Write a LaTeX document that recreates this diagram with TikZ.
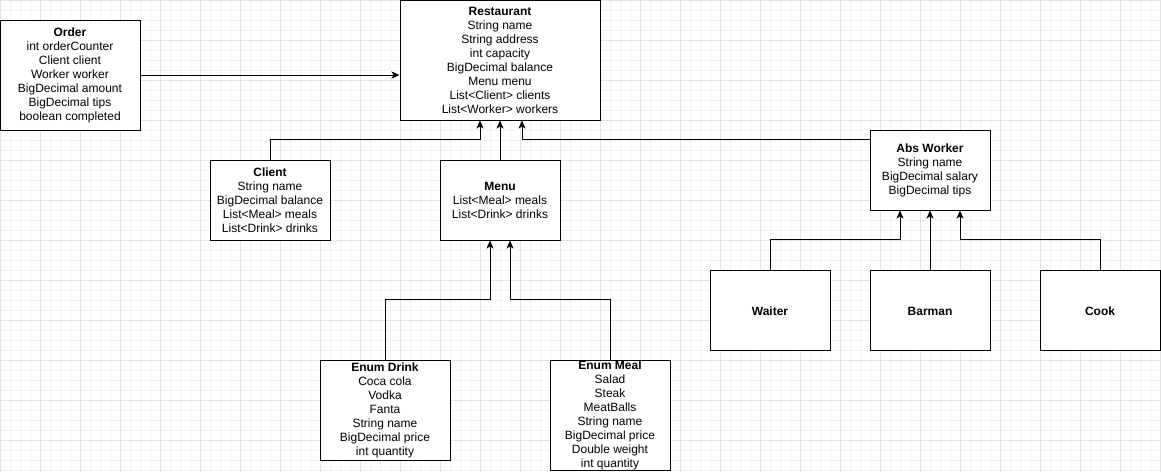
\documentclass[tikz,border=0pt]{standalone}
\usepackage{fontspec}
\setmainfont{Liberation Sans}
\usepackage{xcolor}
\usetikzlibrary{arrows.meta,positioning}
\definecolor{gridminor}{HTML}{F2F2F2}
\definecolor{gridmajor}{HTML}{E3E3E3}

\begin{document}
\begin{tikzpicture}[x=1pt, y=-1pt, font=\fontsize{12}{14}\selectfont]
\tikzstyle{cls}=[draw, line width=1pt, fill=white, align=center, inner sep=0pt, minimum width=120pt, minimum height=80pt, execute at begin node={\rule{0pt}{12pt}}]
\tikzstyle{link}=[line width=1pt, -{Stealth[length=8pt,width=7pt,inset=2pt]}]

\useasboundingbox (0,0) rectangle (1161,472);
\fill[white] (0,0) rectangle (1161,472);
\draw[gridminor, line width=0.6pt, step=10pt] (0,0) grid (1161,472);
\draw[gridmajor, line width=0.6pt, step=40pt] (0,0) grid (1161,472);

\node[cls, minimum width=140pt, minimum height=110pt] (order) at (70,75) {\textbf{Order}\\int orderCounter\\Client client\\Worker worker\\BigDecimal amount\\BigDecimal tips\\boolean completed};
\node[cls, minimum width=200pt, minimum height=120pt] (restaurant) at (500,60) {\textbf{Restaurant}\\String name\\String address\\int capacity\\BigDecimal balance\\Menu menu\\List<Client> clients\\List<Worker> workers};
\node[cls] (client) at (270,200) {\textbf{Client}\\String name\\BigDecimal balance\\List<Meal> meals\\List<Drink> drinks};
\node[cls] (menu) at (500,200) {\textbf{Menu}\\List<Meal> meals\\List<Drink> drinks};
\node[cls] (absworker) at (930,170) {\textbf{Abs Worker}\\String name\\BigDecimal salary\\BigDecimal tips};
\node[cls] (waiter) at (770,310) {\textbf{Waiter}};
\node[cls] (barman) at (930,310) {\textbf{Barman}};
\node[cls] (cook) at (1100,310) {\textbf{Cook}};
\node[cls, minimum width=130pt, minimum height=100pt] (drink) at (385,410) {\textbf{Enum Drink}\\Coca cola\\Vodka\\Fanta\\String name\\BigDecimal price\\int quantity};
\node[cls, minimum height=110pt] (meal) at (610,415) {\textbf{Enum Meal}\\Salad\\Steak\\MeatBalls\\String name\\BigDecimal price\\Double weight\\int quantity};

\draw[link] (order.east) -- (order.east -| restaurant.west);
\draw[link] (client.north) -- ++(0,-20) -| ([xshift=-20pt]restaurant.south);
\draw[link] (menu) -- (restaurant);
\draw[link] ([yshift=-10pt]absworker.north west) -| ([xshift=22pt]restaurant.south);
\draw[link] (drink.north) -- ++(0,-60) -| ([xshift=-10pt]menu.south);
\draw[link] (meal.north) -- ++(0,-60) -| ([xshift=10pt]menu.south);
\draw[link] (waiter.north) -- ++(0,-30) -| ([xshift=-30pt]absworker.south);
\draw[link] (barman) -- (absworker);
\draw[link] (cook.north) -- ++(0,-30) -| ([xshift=30pt]absworker.south);
\end{tikzpicture}
\end{document}
